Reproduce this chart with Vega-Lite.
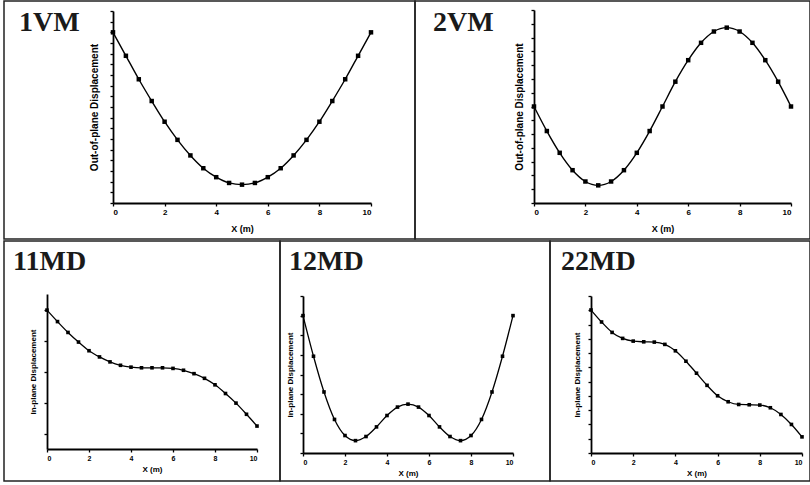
{
  "$schema": "https://vega.github.io/schema/vega-lite/v6.json",
  "padding": {"left": 3, "top": 0, "right": 0, "bottom": 3},
  "background": "white",
  "spacing": 0,
  "config": {
    "view": {"stroke": "#222222", "strokeWidth": 1.5},
    "axis": {"grid": false, "domainColor": "black", "tickColor": "black", "labelColor": "black", "titleColor": "black", "labelFont": "Liberation Sans", "titleFont": "Liberation Sans", "labelFontWeight": "bold", "titleFontWeight": "bold", "domainWidth": 1.8, "tickWidth": 1.3, "tickSize": 3, "labelPadding": 2},
    "title": {"font": "Liberation Serif", "fontWeight": "bold", "color": "#1a1a1a", "anchor": "start", "frame": "group"}
  },
  "datasets": {
    "vm1": [
      {"x": 0, "y": 8.0}, {"x": 0.5, "y": 6.9}, {"x": 1, "y": 5.8}, {"x": 1.5, "y": 4.78}, {"x": 2, "y": 3.81}, {"x": 2.5, "y": 2.96}, {"x": 3, "y": 2.23}, {"x": 3.5, "y": 1.63}, {"x": 4, "y": 1.21}, {"x": 4.5, "y": 0.94}, {"x": 5, "y": 0.86},
      {"x": 5.5, "y": 0.94}, {"x": 6, "y": 1.21}, {"x": 6.5, "y": 1.63}, {"x": 7, "y": 2.23}, {"x": 7.5, "y": 2.96}, {"x": 8, "y": 3.81}, {"x": 8.5, "y": 4.78}, {"x": 9, "y": 5.8}, {"x": 9.5, "y": 6.9}, {"x": 10, "y": 8.0}
    ],
    "vm2": [
      {"x": 0, "y": 0}, {"x": 0.5, "y": -0.89}, {"x": 1, "y": -1.68}, {"x": 1.5, "y": -2.31}, {"x": 2, "y": -2.72}, {"x": 2.5, "y": -2.86}, {"x": 3, "y": -2.72}, {"x": 3.5, "y": -2.31}, {"x": 4, "y": -1.68}, {"x": 4.5, "y": -0.89}, {"x": 5, "y": 0},
      {"x": 5.5, "y": 0.9}, {"x": 6, "y": 1.68}, {"x": 6.5, "y": 2.31}, {"x": 7, "y": 2.72}, {"x": 7.5, "y": 2.86}, {"x": 8, "y": 2.72}, {"x": 8.5, "y": 2.31}, {"x": 9, "y": 1.68}, {"x": 9.5, "y": 0.9}, {"x": 10, "y": 0}
    ],
    "md11": [
      {"x": 0, "y": 4.48}, {"x": 0.5, "y": 4.11}, {"x": 1, "y": 3.76}, {"x": 1.5, "y": 3.45}, {"x": 2, "y": 3.17}, {"x": 2.5, "y": 2.97}, {"x": 3, "y": 2.81}, {"x": 3.5, "y": 2.7}, {"x": 4, "y": 2.64}, {"x": 4.5, "y": 2.62}, {"x": 5, "y": 2.62},
      {"x": 5.5, "y": 2.62}, {"x": 6, "y": 2.6}, {"x": 6.5, "y": 2.54}, {"x": 7, "y": 2.43}, {"x": 7.5, "y": 2.28}, {"x": 8, "y": 2.07}, {"x": 8.5, "y": 1.79}, {"x": 9, "y": 1.48}, {"x": 9.5, "y": 1.12}, {"x": 10, "y": 0.74}
    ],
    "md12": [
      {"x": 0, "y": 7.0}, {"x": 0.5, "y": 4.93}, {"x": 1, "y": 3.11}, {"x": 1.5, "y": 1.71}, {"x": 2, "y": 0.89}, {"x": 2.5, "y": 0.63}, {"x": 3, "y": 0.84}, {"x": 3.5, "y": 1.33}, {"x": 4, "y": 1.91}, {"x": 4.5, "y": 2.34}, {"x": 5, "y": 2.49},
      {"x": 5.5, "y": 2.34}, {"x": 6, "y": 1.91}, {"x": 6.5, "y": 1.33}, {"x": 7, "y": 0.84}, {"x": 7.5, "y": 0.63}, {"x": 8, "y": 0.89}, {"x": 8.5, "y": 1.71}, {"x": 9, "y": 3.11}, {"x": 9.5, "y": 4.93}, {"x": 10, "y": 7.0}
    ],
    "md22": [
      {"x": 0, "y": 10.02}, {"x": 0.5, "y": 9.18}, {"x": 1, "y": 8.45}, {"x": 1.5, "y": 8.03}, {"x": 2, "y": 7.84}, {"x": 2.5, "y": 7.79}, {"x": 3, "y": 7.77}, {"x": 3.5, "y": 7.61}, {"x": 4, "y": 7.16}, {"x": 4.5, "y": 6.43}, {"x": 5, "y": 5.59},
      {"x": 5.5, "y": 4.74}, {"x": 6, "y": 4.01}, {"x": 6.5, "y": 3.59}, {"x": 7, "y": 3.4}, {"x": 7.5, "y": 3.38}, {"x": 8, "y": 3.36}, {"x": 8.5, "y": 3.17}, {"x": 9, "y": 2.7}, {"x": 9.5, "y": 2.0}, {"x": 10, "y": 1.13}
    ]
  },
  "vconcat": [
    {
      "spacing": 0,
      "bounds": "flush",
      "hconcat": [
        {
          "width": 411, "height": 238,
          "data": {"name": "vm1"},
          "title": {"text": "1VM", "fontSize": 28, "dx": 15, "dy": 40},
          "encoding": {
            "x": {"field": "x", "type": "quantitative", "scale": {"domain": [0, 10], "range": [109, 367], "nice": false, "zero": false},
              "axis": {"values": [0, 2, 4, 6, 8, 10], "labelFontSize": 8, "title": "X (m)", "titleFontSize": 9, "titlePadding": 8, "offset": -36}},
            "y": {"field": "y", "type": "quantitative", "scale": {"domain": [0, 9], "range": [202, 10], "nice": false, "zero": false},
              "axis": {"values": [0, 0.5, 1, 1.5, 2, 2.5, 3, 3.5, 4, 4.5, 5, 5.5, 6, 6.5, 7, 7.5, 8, 8.5, 9], "labels": false, "title": "Out-of-plane Displacement", "titleFontSize": 10, "titlePadding": 10, "offset": -109}}
          },
          "layer": [
            {"mark": {"type": "line", "color": "black", "strokeWidth": 1.4, "interpolate": "monotone"}},
            {"mark": {"type": "square", "color": "black", "filled": true, "opacity": 1, "size": 20}}
          ]
        },
        {
          "width": 395, "height": 238,
          "data": {"name": "vm2"},
          "title": {"text": "2VM", "fontSize": 28, "dx": 18, "dy": 40},
          "encoding": {
            "x": {"field": "x", "type": "quantitative", "scale": {"domain": [0, 10], "range": [119, 376], "nice": false, "zero": false},
              "axis": {"values": [0, 2, 4, 6, 8, 10], "labelFontSize": 8, "title": "X (m)", "titleFontSize": 9, "titlePadding": 8, "offset": -36}},
            "y": {"field": "y", "type": "quantitative", "scale": {"domain": [-3.5, 3.5], "range": [202, 9], "nice": false, "zero": false},
              "axis": {"values": [-3.5, -3, -2.5, -2, -1.5, -1, -0.5, 0, 0.5, 1, 1.5, 2, 2.5, 3, 3.5], "labels": false, "title": "Out-of-plane Displacement", "titleFontSize": 10, "titlePadding": 6, "offset": -119}}
          },
          "layer": [
            {"mark": {"type": "line", "color": "black", "strokeWidth": 1.4, "interpolate": "monotone"}},
            {"mark": {"type": "square", "color": "black", "filled": true, "opacity": 1, "size": 20}}
          ]
        }
      ]
    },
    {
      "spacing": 0,
      "bounds": "flush",
      "hconcat": [
        {
          "width": 276, "height": 240,
          "data": {"name": "md11"},
          "title": {"text": "11MD", "fontSize": 28, "dx": 9, "dy": 39},
          "encoding": {
            "x": {"field": "x", "type": "quantitative", "scale": {"domain": [0, 10], "range": [43, 253], "nice": false, "zero": false},
              "axis": {"values": [0, 2, 4, 6, 8, 10], "labelFontSize": 7, "title": "X (m)", "titleFontSize": 8, "titlePadding": 4, "offset": -32}},
            "y": {"field": "y", "type": "quantitative", "scale": {"domain": [0, 5], "range": [208, 53], "nice": false, "zero": false},
              "axis": {"values": [0.5, 1.5, 2.5, 3.5, 4.5], "labels": false, "title": "In-plane Displacement", "titleFontSize": 8, "titlePadding": 6, "offset": -43}}
          },
          "layer": [
            {"mark": {"type": "line", "color": "black", "strokeWidth": 1.3, "interpolate": "monotone"}},
            {"mark": {"type": "square", "color": "black", "filled": true, "opacity": 1, "size": 13}}
          ]
        },
        {
          "width": 270, "height": 240,
          "data": {"name": "md12"},
          "title": {"text": "12MD", "fontSize": 28, "dx": 9, "dy": 39},
          "encoding": {
            "x": {"field": "x", "type": "quantitative", "scale": {"domain": [0, 10], "range": [23, 233], "nice": false, "zero": false},
              "axis": {"values": [0, 2, 4, 6, 8, 10], "labelFontSize": 7, "title": "X (m)", "titleFontSize": 8, "titlePadding": 4, "offset": -28}},
            "y": {"field": "y", "type": "quantitative", "scale": {"domain": [0, 8], "range": [212, 55], "nice": false, "zero": false},
              "axis": {"values": [0, 1, 2, 3, 4, 5, 6, 7, 8], "labels": false, "title": "In-plane Displacement", "titleFontSize": 8, "titlePadding": 5, "offset": -23}}
          },
          "layer": [
            {"mark": {"type": "line", "color": "black", "strokeWidth": 1.3, "interpolate": "monotone"}},
            {"mark": {"type": "square", "color": "black", "filled": true, "opacity": 1, "size": 13}}
          ]
        },
        {
          "width": 260, "height": 240,
          "data": {"name": "md22"},
          "title": {"text": "22MD", "fontSize": 28, "dx": 11, "dy": 39},
          "encoding": {
            "x": {"field": "x", "type": "quantitative", "scale": {"domain": [0, 10], "range": [41, 252], "nice": false, "zero": false},
              "axis": {"values": [0, 2, 4, 6, 8, 10], "labelFontSize": 7, "title": "X (m)", "titleFontSize": 8, "titlePadding": 4, "offset": -28}},
            "y": {"field": "y", "type": "quantitative", "scale": {"domain": [0, 11], "range": [212, 55], "nice": false, "zero": false},
              "axis": {"values": [0, 1, 2, 3, 4, 5, 6, 7, 8, 9, 10, 11], "labels": false, "title": "In-plane Displacement", "titleFontSize": 8, "titlePadding": 6, "offset": -41}}
          },
          "layer": [
            {"mark": {"type": "line", "color": "black", "strokeWidth": 1.3, "interpolate": "monotone"}},
            {"mark": {"type": "square", "color": "black", "filled": true, "opacity": 1, "size": 13}}
          ]
        }
      ]
    }
  ]
}
